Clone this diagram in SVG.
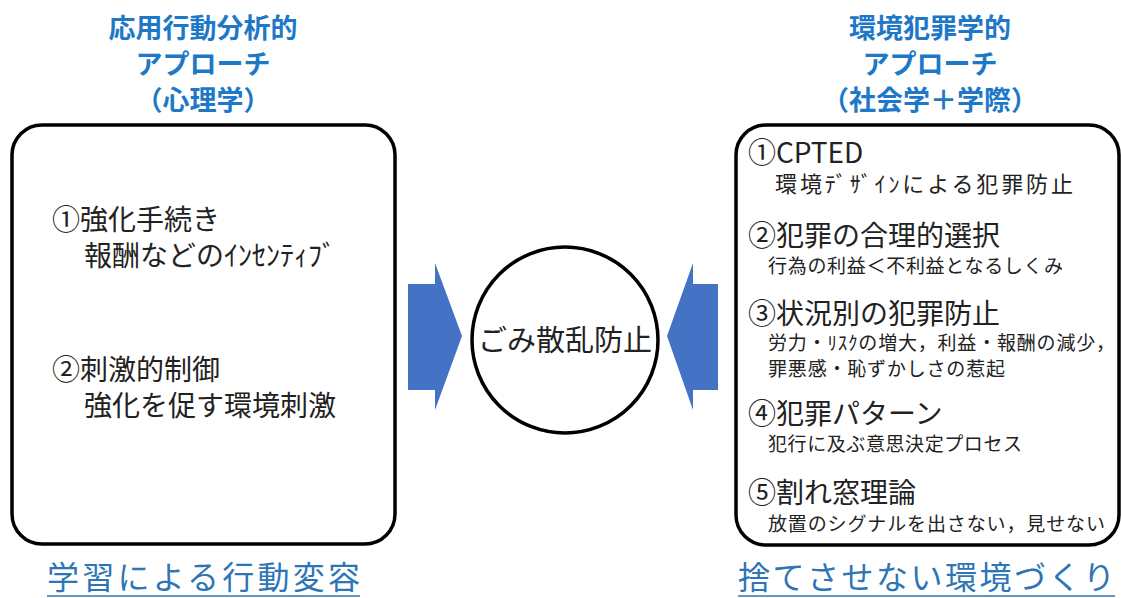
<svg xmlns="http://www.w3.org/2000/svg" width="1121" height="598" viewBox="0 0 1121 598">
<style>
.t{font-family:"Noto Sans CJK JP","Noto Sans",sans-serif;}
.title{font-size:27px;font-weight:bold;fill:#1e78c8;text-anchor:middle;}
.main{font-size:28px;fill:#222;}
.sub{font-size:19px;fill:#222;}
.sub2{font-size:22px;fill:#222;}
.foot{font-size:32px;fill:#2e75b6;}
.box{fill:#fff;stroke:#000;stroke-width:3.5;}
.arrow{fill:#4472c4;}
</style>
<rect width="1121" height="598" fill="#fff"/>
<g id="title-left" class="t">
<text class="t title" x="203" y="38">応用行動分析的</text>
<text class="t title" x="203" y="74">アプローチ</text>
<text class="t title" x="203" y="110">（心理学）</text>
</g>
<g id="title-right" class="t">
<text class="t title" x="930" y="38">環境犯罪学的</text>
<text class="t title" x="930" y="74">アプローチ</text>
<text class="t title" x="930" y="110">（社会学＋学際）</text>
</g>
<g id="box-left">
<rect class="box" x="12" y="125" width="383" height="419" rx="30" ry="30"/>
<text class="t main" x="52" y="230">①強化手続き</text>
<text class="t main" x="84" y="266">報酬などのｲﾝｾﾝﾃｨﾌﾞ</text>
<text class="t main" x="52" y="380">②刺激的制御</text>
<text class="t main" x="84" y="416">強化を促す環境刺激</text>
</g>
<g id="box-right">
<rect class="box" x="736" y="125" width="383" height="420" rx="30" ry="30"/>
<text class="t main" x="748" y="163">①CPTED</text>
<text class="t sub2" x="775" y="192" textLength="298">環境ﾃﾞｻﾞｲﾝによる犯罪防止</text>
<text class="t main" x="748" y="246">②犯罪の合理的選択</text>
<text class="t sub" x="768" y="273" textLength="295">行為の利益＜不利益となるしくみ</text>
<text class="t main" x="748" y="324">③状況別の犯罪防止</text>
<text class="t sub" x="768" y="350" textLength="347">労力・ﾘｽｸの増大，利益・報酬の減少，</text>
<text class="t sub" x="768" y="376" textLength="237">罪悪感・恥ずかしさの惹起</text>
<text class="t main" x="748" y="424">④犯罪パターン</text>
<text class="t sub" x="768" y="451" textLength="254">犯行に及ぶ意思決定プロセス</text>
<text class="t main" x="748" y="503">⑤割れ窓理論</text>
<text class="t sub" x="768" y="531" textLength="337">放置のシグナルを出さない，見せない</text>
</g>
<g id="center">
<circle cx="565" cy="340" r="93" fill="#fff" stroke="#000" stroke-width="3.5"/>
<text class="t" x="565" y="351" font-size="29" fill="#222" text-anchor="middle">ごみ散乱防止</text>
</g>
<g id="connectors">
<polygon class="arrow" points="408,284 435,284 435,263 462,336 435,410 435,390 408,390"/>
<polygon class="arrow" points="718,284 693,284 693,263 667,336 693,410 693,390 718,390"/>
</g>
<g id="footer-left">
<text class="t foot" x="47" y="589" textLength="313">学習による行動変容</text>
<line x1="47" y1="596" x2="360" y2="596" stroke="#2e75b6" stroke-width="1.5"/>
</g>
<g id="footer-right">
<text class="t foot" x="738" y="589" textLength="377">捨てさせない環境づくり</text>
<line x1="738" y1="596" x2="1115" y2="596" stroke="#2e75b6" stroke-width="1.5"/>
</g>
</svg>
